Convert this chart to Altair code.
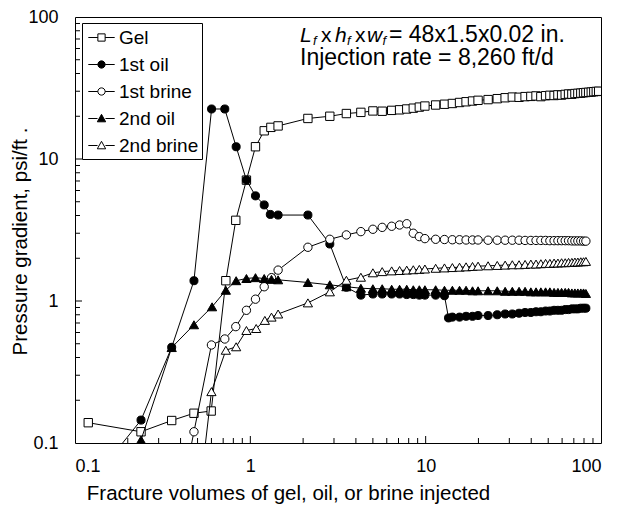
import altair as alt
import pandas as pd

FONT = "Liberation Sans"
W, H = 526, 426

SERIES = ["Gel", "1st oil", "1st brine", "2nd oil", "2nd brine"]
SHAPES = ["square", "circle", "circle", "triangle-up", "triangle-up"]
FILLS = ["white", "black", "white", "black", "white"]
SIZES = [70, 65, 70, 85, 85]
LEGEND_PATHS = [
    "M-1.2,0H-0.33M0.33,0H1.2M-0.33,-0.33H0.33V0.33H-0.33Z",
    "M-1.2,0H-0.33M0.33,0H1.2M-0.33,0A0.33,0.33 0 1,0 0.33,0A0.33,0.33 0 1,0 -0.33,0Z",
    "M-1.2,0H-0.33M0.33,0H1.2M-0.33,0A0.33,0.33 0 1,0 0.33,0A0.33,0.33 0 1,0 -0.33,0Z",
    "M-1.2,0H-0.36M0.36,0H1.2M0,-0.38L0.38,0.3H-0.38Z",
    "M-1.2,0H-0.36M0.36,0H1.2M0,-0.38L0.38,0.3H-0.38Z",
]

tail_x = [7.1, 7.8, 8.5, 9.2, 9.9, 11.4, 12.8, 14.2, 15.6, 17.0, 18.5, 19.9,
          22.7, 25.6, 28.4, 31.2, 34.1, 36.9, 39.8, 42.6, 45.4, 48.3,
          51.1, 54.0, 56.8, 59.6, 62.5, 65.3, 68.2, 71.0, 73.8, 76.7, 79.5, 82.0]

gel_x = [0.119, 0.238, 0.356, 0.477, 0.598, 0.725, 0.826, 0.95, 1.07, 1.2, 1.31, 1.44,
         2.13, 2.84, 3.53, 4.27, 5.0, 5.65, 6.4] + tail_x + [85.0, 88.0, 91.0, 94.0, 97.0]
gel_y = [0.139, 0.12, 0.144, 0.162, 0.168, 1.39, 3.7, 7.1, 12.2, 15.8, 16.7, 17.1,
         19.3, 20.0, 20.9, 21.3, 21.8, 21.7, 22.0,
         22.2, 22.5, 22.8, 23.2, 23.6, 24.0, 24.3, 24.6, 25.0, 25.3, 25.6, 25.9,
         26.2, 26.6, 27.0, 27.3, 27.2, 27.5, 27.6, 27.8, 27.5, 27.9,
         28.1, 28.0, 28.3, 28.2, 28.5, 28.7, 28.6, 28.9, 29.0, 29.1, 29.3, 29.4,
         29.5, 29.6, 29.8, 29.9, 30.0]

oil1_x = [0.119, 0.238, 0.356, 0.477, 0.601, 0.715, 0.83, 0.95, 1.07, 1.2, 1.30, 1.44,
          2.13, 2.84, 3.53, 4.27, 5.0, 5.65, 6.4,
          7.1, 7.8, 8.5, 9.2, 9.9, 11.4, 12.8, 13.5, 14.2, 15.6, 17.0, 18.5, 19.9,
          22.7, 25.6, 28.4, 31.2, 34.1, 36.9, 39.8, 42.6, 45.4, 48.3,
          51.1, 54.0, 56.8, 59.6, 62.5, 65.3, 68.2, 71.0, 73.8, 76.7, 79.5, 82.0]
oil1_y = [0.05, 0.145, 0.472, 1.39, 22.5, 22.5, 12.2, 7.1, 5.5, 4.75, 4.07, 4.03,
          4.03, 2.52, 1.25, 1.10, 1.12, 1.12, 1.12,
          1.12, 1.11, 1.11, 1.10, 1.10, 1.10, 1.09, 0.76, 0.77, 0.77, 0.78, 0.78, 0.79,
          0.79, 0.80, 0.81, 0.81, 0.82, 0.83, 0.83, 0.84, 0.84, 0.85,
          0.85, 0.86, 0.86, 0.86, 0.87, 0.87, 0.88, 0.88, 0.88, 0.89, 0.89, 0.89]

brine1_x = [0.356, 0.477, 0.60, 0.715, 0.826, 0.95, 1.07, 1.2, 1.32, 1.44,
            2.13, 2.84, 3.53, 4.27, 5.0, 5.65, 6.4] + tail_x
brine1_y = [0.02, 0.12, 0.49, 0.54, 0.66, 0.86, 1.03, 1.26, 1.46, 1.65,
            2.39, 2.72, 2.92, 3.08, 3.2, 3.3, 3.36,
            3.43, 3.5, 3.0, 2.84, 2.75, 2.72, 2.71, 2.70, 2.70, 2.69, 2.69, 2.69,
            2.68, 2.68, 2.68, 2.68, 2.68, 2.67, 2.67, 2.67, 2.67, 2.67,
            2.66, 2.66, 2.66, 2.66, 2.66, 2.66, 2.65, 2.65, 2.65, 2.65, 2.64, 2.64]

oil2_x = [0.119, 0.238, 0.356, 0.477, 0.605, 0.725, 0.83, 0.95, 1.07, 1.2, 1.32, 1.44,
          2.13, 2.84, 3.53, 4.27, 5.0, 5.65, 6.4] + tail_x
oil2_y = [0.02, 0.105, 0.47, 0.68, 0.91, 1.19, 1.39, 1.44, 1.46, 1.44, 1.42, 1.41,
          1.35, 1.30, 1.26, 1.23, 1.22, 1.22, 1.21,
          1.21, 1.21, 1.20, 1.20, 1.20, 1.20, 1.19, 1.19, 1.19, 1.19, 1.18, 1.18,
          1.18, 1.18, 1.17, 1.17, 1.17, 1.17, 1.16, 1.16, 1.16, 1.16,
          1.16, 1.15, 1.15, 1.15, 1.15, 1.15, 1.14, 1.14, 1.14, 1.14, 1.14, 1.13]

brine2_x = [0.477, 0.60, 0.725, 0.83, 0.95, 1.08, 1.21, 1.32, 1.44,
            2.13, 2.84, 3.53, 4.27, 5.0, 5.65, 6.4] + tail_x
brine2_y = [0.02, 0.23, 0.45, 0.476, 0.62, 0.64, 0.73, 0.77, 0.81,
            0.97, 1.16, 1.40, 1.47, 1.58, 1.61, 1.63,
            1.64, 1.65, 1.66, 1.67, 1.68, 1.70, 1.71, 1.72, 1.73, 1.74, 1.75, 1.76,
            1.77, 1.78, 1.79, 1.80, 1.80, 1.81, 1.82, 1.82, 1.83, 1.84,
            1.84, 1.85, 1.85, 1.86, 1.86, 1.87, 1.87, 1.88, 1.88, 1.89, 1.89, 1.90]

x_labels = [0.1, 1, 10, 100]
y_labels = [0.1, 1, 10, 100]
minor_ticks = [0.2, 0.3, 0.4, 0.5, 0.6, 0.7, 0.8, 0.9, 2, 3, 4, 5, 6, 7, 8, 9,
               20, 30, 40, 50, 60, 70, 80, 90]
major_ticks = [1, 10]

xs = [gel_x, oil1_x, brine1_x, oil2_x, brine2_x]
ys = [gel_y, oil1_y, brine1_y, oil2_y, brine2_y]
rows = []
for name, xv, yv in zip(SERIES, xs, ys):
    for a, b in zip(xv, yv):
        rows.append({"series": name, "x": a, "y": b})
df = pd.DataFrame(rows)

xscale = alt.Scale(type="log", domain=[0.1, 100], nice=False)
yscale = alt.Scale(type="log", domain=[0.1, 100], nice=False)
label_expr = "datum.value < 1 ? '0.1' : '' + datum.value"
X = alt.X("x:Q", scale=xscale, title="Fracture volumes of gel, oil, or brine injected",
          axis=alt.Axis(values=x_labels, labelExpr=label_expr, tickSize=0, domain=False, grid=False,
                        labelPadding=14, titleFontSize=20.5, titleX=213, titleY=50,
                        titleBaseline="middle", titleAlign="center"))
Y = alt.Y("y:Q", scale=yscale, title="Pressure gradient, psi/ft    .",
          axis=alt.Axis(values=y_labels, labelExpr=label_expr, tickSize=0, domain=False, grid=False,
                        labelPadding=17, titleFontSize=20.5, titleX=-55, titleY=224,
                        titleBaseline="middle", titleAlign="center", titleAngle=270))

layers = []
for i, name in enumerate(SERIES):
    d = df[df.series == name]
    layers.append(alt.Chart(d).mark_line(color="black", strokeWidth=1, clip=True).encode(x=X, y=Y))
    layers.append(alt.Chart(d).mark_point(shape=SHAPES[i], size=SIZES[i], filled=True, fill=FILLS[i],
                                          stroke="black", strokeWidth=1, opacity=1, clip=True)
                  .encode(x=X, y=Y))

# inward ticks
xt_minor = pd.DataFrame({"x": minor_ticks})
xt_major = pd.DataFrame({"x": major_ticks})
yt_minor = pd.DataFrame({"y": minor_ticks})
yt_major = pd.DataFrame({"y": major_ticks})
layers.append(alt.Chart(xt_minor).mark_rule(color="black", strokeWidth=1)
              .encode(x=X, y=alt.value(H), y2=alt.value(H - 5)))
layers.append(alt.Chart(xt_major).mark_rule(color="black", strokeWidth=1)
              .encode(x=X, y=alt.value(H), y2=alt.value(H - 7)))
layers.append(alt.Chart(yt_minor).mark_rule(color="black", strokeWidth=1)
              .encode(y=Y, x=alt.value(0), x2=alt.value(5)))
layers.append(alt.Chart(yt_major).mark_rule(color="black", strokeWidth=1)
              .encode(y=Y, x=alt.value(0), x2=alt.value(7)))

# legend
leg = alt.Legend(title=None, orient="none", legendX=7, legendY=6, strokeColor="black",
                 fillColor="white", padding=3, symbolSize=484, symbolStrokeWidth=1,
                 symbolStrokeColor="black", labelFontSize=19, labelFont=FONT, labelColor="black",
                 rowPadding=5.0, labelOffset=6, symbolOffset=5)
layers.append(alt.Chart(df).transform_filter("false")
              .mark_point(filled=True, strokeWidth=1, opacity=1)
              .encode(shape=alt.Shape("series:N", scale=alt.Scale(domain=SERIES, range=LEGEND_PATHS), legend=leg),
                      fill=alt.Fill("series:N", scale=alt.Scale(domain=SERIES, range=FILLS), legend=leg),
                      stroke=alt.Stroke("series:N", scale=alt.Scale(domain=SERIES, range=["black"] * 5),
                                        legend=leg)))

# annotation
def txt(s, x, y, size=23, style="normal"):
    return alt.Chart(pd.DataFrame({"t": [s]})).mark_text(
        align="left", baseline="alphabetic", font=FONT, fontSize=size, fontStyle=style, color="black"
    ).encode(text="t:N", x=alt.value(x), y=alt.value(y))

ann = [
    txt("L", 225, 24.5, size=21, style="italic"),
    txt("f", 238, 27.5, size=13, style="italic"),
    txt("x", 246, 24.5, size=21),
    txt("h", 260, 24.5, size=21, style="italic"),
    txt("f", 272, 27.5, size=13, style="italic"),
    txt("x", 280, 24.5, size=21),
    txt("w", 292, 24.5, size=21, style="italic"),
    txt("f", 307.5, 27.5, size=13, style="italic"),
    txt("= 48x1.5x0.02 in.", 314, 24.5),
    txt("Injection rate = 8,260 ft/d", 225, 47.5),
]
layers.extend(ann)

chart = alt.layer(*layers).properties(
    width=W, height=H, autosize="none", background="white",
    padding={"left": 67, "top": 9, "right": 9, "bottom": 62},
).configure_view(stroke="black", strokeWidth=1).configure_axis(
    labelFont=FONT, labelFontSize=18, labelColor="black",
    titleFont=FONT, titleFontSize=20, titleFontWeight="normal", titleColor="black",
)

chart.save("out.html", embed_options={"renderer": "svg", "actions": False})
